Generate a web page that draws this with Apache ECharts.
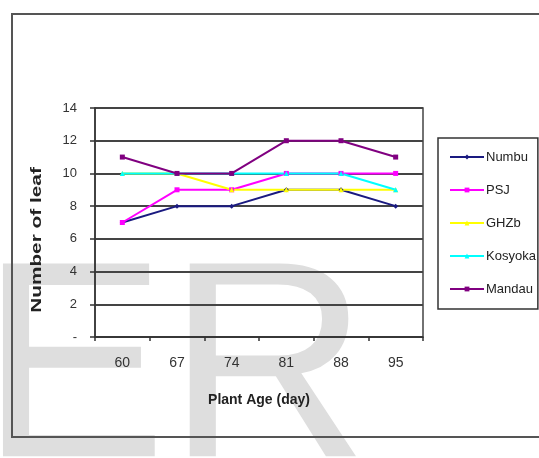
<!DOCTYPE html>
<html>
<head>
<meta charset="utf-8">
<script src="https://cdn.jsdelivr.net/npm/echarts@6/dist/echarts.min.js"></script>
<style>
  html, body { margin: 0; padding: 0; background: #fff; }
  #chart { width: 539px; height: 458px; }
</style>
</head>
<body>
<div id="chart"></div>
<script>
// Plant age in days (category axis)
const plantAge = ['60', '67', '74', '81', '88', '95'];

// Number of leaves per variety
const numbu   = [7, 8, 8, 9, 9, 8];
const psj     = [7, 9, 9, 10, 10, 10];
const ghzb    = [10, 10, 9, 9, 9, 9];
const kosyoka = [10, 10, 10, 10, 10, 9];
const mandau  = [11, 10, 10, 12, 12, 11];

const seriesNames = ['Numbu', 'PSJ', 'GHZb', 'Kosyoka', 'Mandau'];
const seriesValues = [numbu, psj, ghzb, kosyoka, mandau];
const seriesColors = ['#1a1a80', '#ff00ff', '#ffff00', '#00ffff', '#800080'];
const seriesSymbols = ['diamond', 'rect', 'triangle', 'triangle', 'rect'];

const font = "'Liberation Sans', Arial, sans-serif";

const chart = echarts.init(document.getElementById('chart'), null, { renderer: 'canvas' });

chart.setOption({
  backgroundColor: '#ffffff',
  animation: false,
  graphic: [
    // large grey backdrop lettering
    {
      type: 'text', z: -10, left: -20, top: 239,
      style: { text: 'ER', fill: '#dedede', font: '280px ' + font }
    },
    // outer chart frame
    {
      type: 'rect', z: 100,
      shape: { x: 12, y: 14, width: 540, height: 423 },
      style: { fill: 'none', stroke: '#555', lineWidth: 2 }
    },
    // vertical axis title
    {
      type: 'text', z: 100, x: 37, y: 240, rotation: Math.PI / 2,
      scaleX: 1.6, scaleY: 1.1,
      style: {
        text: 'Number of leaf', fill: '#222',
        font: 'bold 13px ' + font, align: 'center', verticalAlign: 'middle'
      }
    }
  ],
  grid: {
    left: 95, right: 116, top: 108, bottom: 121,
    show: true, borderColor: '#444', borderWidth: 1.5, backgroundColor: 'transparent'
  },
  legend: {
    orient: 'vertical',
    left: 438, top: 138,
    width: 100,
    padding: [12, 2, 13, 11],
    itemGap: 19,
    itemWidth: 34,
    itemHeight: 6,
    borderColor: '#333', borderWidth: 1.5,
    backgroundColor: '#fff',
    itemStyle: { borderWidth: 0 },
    textStyle: { fontFamily: font, fontSize: 13, lineHeight: 14, color: '#222', padding: [0, 0, 0, -3] },
    data: seriesNames
  },
  xAxis: {
    type: 'category',
    data: plantAge,
    boundaryGap: true,
    name: 'Plant Age (day)',
    nameLocation: 'middle',
    nameGap: 56,
    nameTextStyle: { fontFamily: font, fontWeight: 'bold', fontSize: 14, color: '#222' },
    axisLine: { lineStyle: { color: '#333', width: 1.5 } },
    axisTick: { show: true, length: 4, lineStyle: { color: '#333', width: 1.5 } },
    axisLabel: { fontFamily: font, fontSize: 14, color: '#333', margin: 19 }
  },
  yAxis: {
    type: 'value',
    min: 0, max: 14, interval: 2,
    axisLine: { show: true, lineStyle: { color: '#333', width: 1.5 } },
    axisTick: { show: true, length: 5, lineStyle: { color: '#333', width: 1.5 } },
    splitLine: { lineStyle: { color: '#444', width: 1.8 } },
    axisLabel: {
      fontFamily: font, fontSize: 13, color: '#333', margin: 18,
      formatter: v => (v === 0 ? '-' : String(v))
    }
  },
  series: seriesNames.map((name, i) => ({
    name,
    type: 'line',
    data: seriesValues[i],
    symbol: seriesSymbols[i],
    symbolSize: 5,
    showSymbol: true,
    color: seriesColors[i],
    lineStyle: { width: 2, color: seriesColors[i] },
    itemStyle: { color: seriesColors[i] }
  }))
});
</script>
</body>
</html>
